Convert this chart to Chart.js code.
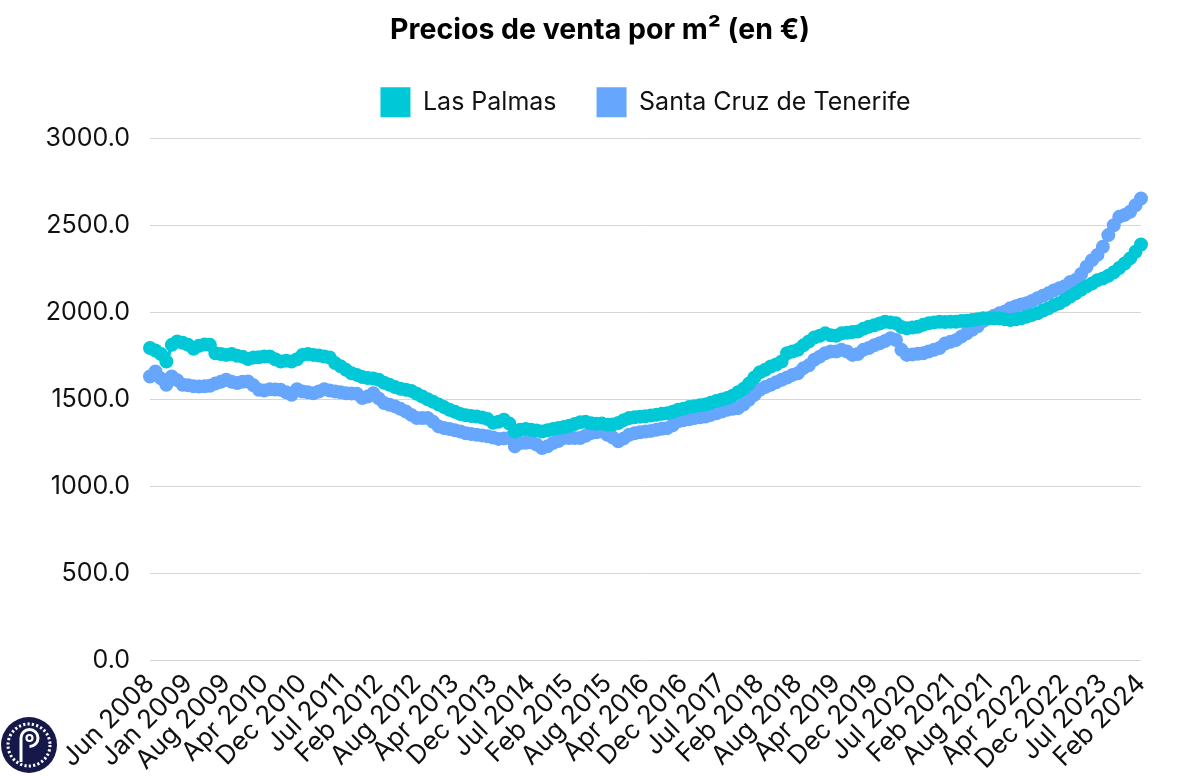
<!DOCTYPE html>
<html>
<head>
<meta charset="utf-8">
<script src="https://cdn.jsdelivr.net/npm/chart.js@4.4.1/dist/chart.umd.min.js"></script>
<style>
  html, body { margin: 0; padding: 0; background: #ffffff; }
  #wrap { position: relative; width: 1200px; height: 776px; }
  #logo { position: absolute; left: 0px; top: 716px; }
</style>
</head>
<body>
<div id="wrap">
  <canvas id="c" width="1200" height="776"></canvas>
  <svg id="logo" width="58" height="58" viewBox="0 0 58 58">
    <circle cx="29" cy="29" r="28" fill="#16184a"/>
    <circle cx="29" cy="29" r="21" fill="none" stroke="#ffffff" stroke-width="3" stroke-dasharray="2.2 2.2"/>
    <path d="M21 46 V22 a8.5 8.5 0 1 1 8.5 8.5" fill="none" stroke="#ffffff" stroke-width="3"/>
    <circle cx="29.5" cy="22" r="3" fill="none" stroke="#ffffff" stroke-width="2.2"/>
  </svg>
</div>
<script>
const title = 'Precios de venta por m² (en €)';
const seriesNames = ['Las Palmas', 'Santa Cruz de Tenerife'];
const tickLabels = ['Jun 2008','Jan 2009','Aug 2009','Apr 2010','Dec 2010','Jul 2011','Feb 2012','Aug 2012','Apr 2013','Dec 2013','Jul 2014','Feb 2015','Aug 2015','Apr 2016','Dec 2016','Jul 2017','Feb 2018','Aug 2018','Apr 2019','Dec 2019','Jul 2020','Feb 2021','Aug 2021','Apr 2022','Dec 2022','Jul 2023','Feb 2024'];
const tickEvery = 7;

const lasPalmas = [
1795,1780,1760,1717,1813,1832,1825,1813,1790,1808,
1815,1813,1765,1760,1755,1760,1750,1745,1731,1740,
1742,1746,1746,1730,1717,1722,1717,1730,1755,1760,
1755,1752,1746,1740,1708,1690,1669,1650,1640,1628,
1622,1620,1612,1595,1583,1570,1560,1554,1548,1532,
1516,1500,1485,1470,1455,1440,1428,1415,1408,1404,
1401,1395,1386,1365,1370,1382,1360,1315,1325,1329,
1325,1320,1315,1322,1329,1335,1340,1348,1358,1368,
1370,1362,1359,1360,1354,1355,1363,1380,1392,1396,
1400,1402,1406,1411,1416,1420,1428,1440,1446,1455,
1460,1465,1470,1480,1490,1498,1507,1520,1540,1560,
1590,1625,1655,1670,1688,1700,1717,1765,1775,1784,
1810,1832,1855,1865,1879,1868,1865,1879,1882,1887,
1890,1905,1917,1925,1935,1946,1942,1937,1915,1908,
1912,1917,1928,1937,1942,1946,1944,1946,1946,1950,
1952,1956,1960,1966,1966,1966,1965,1960,1956,1960,
1966,1975,1985,1994,2010,2023,2040,2052,2071,2090,
2110,2130,2150,2165,2185,2195,2210,2230,2255,2281,
2310,2348,2390
];

const santaCruz = [
1631,1660,1620,1583,1631,1610,1583,1580,1575,1573,
1575,1578,1590,1600,1612,1600,1593,1600,1602,1580,
1554,1550,1558,1556,1554,1540,1526,1558,1545,1540,
1535,1545,1558,1550,1545,1540,1535,1533,1531,1507,
1516,1535,1505,1478,1468,1459,1445,1430,1410,1392,
1392,1392,1370,1344,1335,1329,1322,1315,1305,1300,
1296,1292,1287,1280,1272,1275,1277,1229,1248,1250,
1253,1240,1220,1230,1248,1260,1277,1277,1277,1277,
1290,1306,1310,1315,1296,1280,1258,1275,1296,1305,
1310,1315,1318,1325,1330,1334,1350,1373,1380,1385,
1392,1397,1401,1410,1420,1430,1440,1445,1449,1470,
1497,1525,1554,1570,1583,1598,1612,1625,1640,1650,
1679,1695,1727,1745,1765,1774,1775,1784,1775,1755,
1760,1784,1795,1810,1822,1835,1851,1841,1784,1755,
1758,1762,1765,1775,1784,1795,1820,1830,1840,1860,
1880,1900,1920,1950,1965,1980,1994,2005,2023,2035,
2045,2052,2065,2081,2095,2109,2125,2138,2150,2175,
2186,2220,2262,2300,2330,2377,2444,2501,2549,2560,
2578,2616,2654
];

const yTicks = [0, 500, 1000, 1500, 2000, 2500, 3000];

const categories = lasPalmas.map((_, i) => (i % tickEvery === 0 ? tickLabels[i / tickEvery] : ''));

const cyan = '#00c8d6';
const blue = '#66a6fc';

new Chart(document.getElementById('c'), {
  type: 'line',
  data: {
    labels: categories,
    datasets: [
      { label: seriesNames[0], data: lasPalmas, borderColor: cyan, backgroundColor: cyan,
        pointBackgroundColor: cyan, pointBorderColor: cyan, borderWidth: 4, pointRadius: 6, pointBorderWidth: 2, tension: 0 },
      { label: seriesNames[1], data: santaCruz, borderColor: blue, backgroundColor: blue,
        pointBackgroundColor: blue, pointBorderColor: blue, borderWidth: 4, pointRadius: 6, pointBorderWidth: 2, tension: 0 }
    ]
  },
  options: {
    responsive: false,
    animation: false,
    layout: { padding: { left: 40, right: 40, top: 8, bottom: 0 } },
    plugins: {
      title: { display: true, text: title, color: '#000', font: { family: 'Inter', size: 28.5, weight: 'bold' }, padding: { top: 5, bottom: 0 } },
      subtitle: { display: true, text: ' ', weight: 500, font: { size: 1 }, padding: { top: 5, bottom: 5 } },
      legend: {
        display: true,
        fullSize: false,
        labels: { color: '#111', font: { family: 'Inter', size: 25 }, boxWidth: 30, boxHeight: 30, padding: 40,
          generateLabels: (chart) => chart.data.datasets.map((ds, i) => ({ text: ds.label, fillStyle: ds.borderColor, strokeStyle: ds.borderColor, lineWidth: 0, datasetIndex: i, fontColor: '#111' })) }
      },
      tooltip: { enabled: false }
    },
    scales: {
      x: {
        grid: { display: false },
        border: { display: false },
        ticks: { autoSkip: false, minRotation: 45, maxRotation: 45, color: '#111', font: { family: 'Inter', size: 26 }, padding: 0 }
      },
      y: {
        min: 0, max: 3000,
        afterBuildTicks: (axis) => { axis.ticks = yTicks.map(v => ({ value: v })); },
        afterFit: (axis) => { axis.width = 110; },
        grid: { color: '#d6d6d6', drawTicks: false, lineWidth: 1 },
        border: { display: false },
        ticks: { color: '#111', font: { family: 'Inter', size: 25 }, padding: 20, callback: (v) => Number(v).toFixed(1) }
      },
      yPad: {
        position: 'right',
        display: true,
        grid: { display: false },
        border: { display: false },
        ticks: { display: false },
        afterFit: (axis) => { axis.width = 19; }
      }
    }
  }
});
</script>
</body>
</html>
